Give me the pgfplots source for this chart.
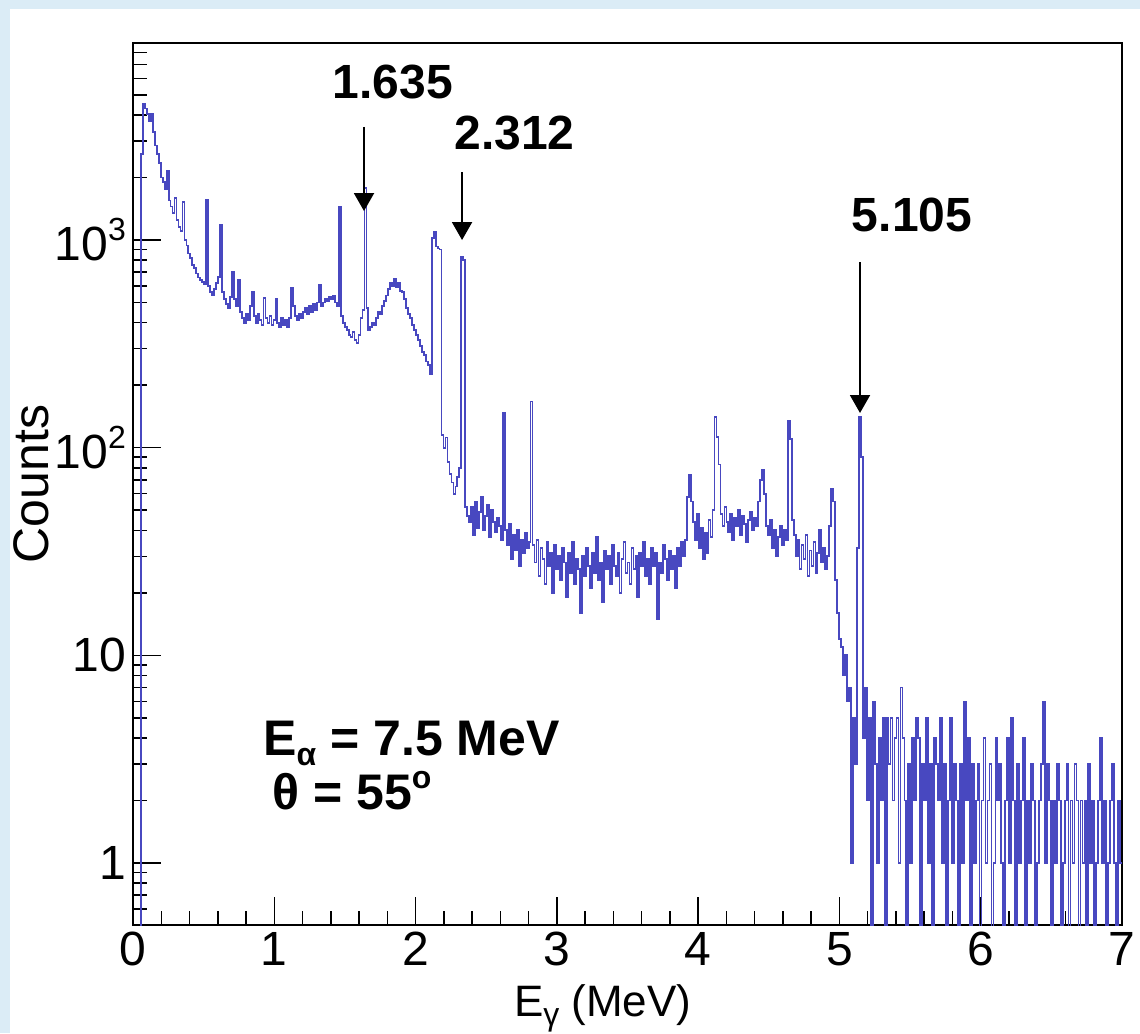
\documentclass[border=0pt]{standalone}
\usepackage{fontspec}
\setmainfont{Liberation Sans}
\usepackage{pgfplots}
\pgfplotsset{compat=1.18}
\usetikzlibrary{arrows.meta}
\definecolor{histblue}{RGB}{72,72,192}
\definecolor{bgblue}{RGB}{219,236,246}
\newcommand{\sub}[1]{\raisebox{-0.2em}{\fontsize{16}{16}\selectfont #1}}
\newcommand{\sups}[1]{\raisebox{0.42em}{\fontsize{16}{16}\selectfont #1}}
\begin{document}
\begin{tikzpicture}
\fill[bgblue] (-66.5pt,-54pt) rectangle (503.5pt,462.5pt);
\fill[white] (-61.5pt,-54pt) rectangle (503.5pt,458pt);
\begin{axis}[
  at={(0pt,0pt)}, anchor=south west,
  scale only axis, width=494.5pt, height=441pt,
  ymode=log, xmin=0, xmax=7, ymin=0.503, ymax=8880,
  xtick={0,1,2,3,4,5,6,7}, xticklabels={0,1,2,3,4,5,6,7},
  minor x tick num=4,
  ytick={1,10,100,1000},
  yticklabels={1,10,{10\sups{2}},{10\sups{3}}},
  minor ytick={0.6,0.7,0.8,0.9,2,3,4,5,6,7,8,9,20,30,40,50,60,70,80,90,200,300,400,500,600,700,800,900,2000,3000,4000,5000,6000,7000,8000},
  tick align=inside, xtick pos=bottom, ytick pos=left,
  major tick length=14pt, minor tick length=7pt,
  tick style={black, line width=0.75pt},
  axis line style={line width=1pt},
  tick label style={font=\fontsize{24}{28}\selectfont},
  xlabel={E\sub{γ} (MeV)},
  xlabel style={at={(axis description cs:0.475,-0.1043)}, anchor=base, inner sep=0pt, font=\fontsize{22}{26}\selectfont},
  ylabel={Counts},
  ylabel style={at={(axis description cs:-0.1031,0.5)}, anchor=center, font=\fontsize{25}{30}\selectfont},
]
\addplot[const plot, mark=none, color=histblue, line width=0.9pt] coordinates {
(0.000,0.01)(0.014,0.01)(0.028,0.01)(0.042,0.01)(0.056,2600)(0.070,4500)(0.084,4300)(0.098,4050)
(0.112,3750)(0.126,4050)(0.140,3300)(0.154,2850)(0.168,2600)(0.182,2350)(0.196,2000)(0.210,1900)
(0.224,1750)(0.238,2150)(0.252,1550)(0.266,1450)(0.280,1350)(0.294,1590)(0.308,1250)(0.322,1150)
(0.336,1100)(0.350,1520)(0.364,1000)(0.378,940)(0.392,860)(0.406,820)(0.420,760)(0.434,730)
(0.448,690)(0.462,660)(0.476,640)(0.490,630)(0.504,610)(0.518,1560)(0.532,600)(0.546,560)
(0.560,540)(0.574,580)(0.588,620)(0.602,665)(0.616,1180)(0.630,560)(0.644,520)(0.658,490)
(0.672,470)(0.686,530)(0.700,700)(0.714,520)(0.728,480)(0.742,640)(0.756,450)(0.770,420)
(0.784,400)(0.798,440)(0.812,410)(0.826,480)(0.840,560)(0.854,430)(0.868,400)(0.882,440)
(0.896,410)(0.910,390)(0.924,525)(0.938,420)(0.952,400)(0.966,430)(0.980,390)(0.994,410)
(1.008,520)(1.022,400)(1.036,380)(1.050,420)(1.064,390)(1.078,410)(1.092,380)(1.106,420)
(1.120,590)(1.134,480)(1.148,430)(1.162,410)(1.176,440)(1.190,420)(1.204,450)(1.218,470)
(1.232,440)(1.246,480)(1.260,450)(1.274,490)(1.288,460)(1.302,500)(1.316,610)(1.330,480)
(1.344,500)(1.358,520)(1.372,510)(1.386,530)(1.400,520)(1.414,540)(1.428,500)(1.442,480)
(1.456,1440)(1.470,430)(1.484,400)(1.498,380)(1.512,370)(1.526,350)(1.540,340)(1.554,360)
(1.568,330)(1.582,320)(1.596,350)(1.610,420)(1.624,460)(1.638,1780)(1.652,470)(1.666,370)
(1.680,380)(1.694,400)(1.708,390)(1.722,420)(1.736,450)(1.750,440)(1.764,480)(1.778,510)
(1.792,540)(1.806,580)(1.820,620)(1.834,600)(1.848,650)(1.862,590)(1.876,620)(1.890,570)
(1.904,560)(1.918,520)(1.932,470)(1.946,440)(1.960,420)(1.974,390)(1.988,370)(2.002,350)
(2.016,330)(2.030,310)(2.044,290)(2.058,280)(2.072,260)(2.086,250)(2.100,225)(2.114,1020)
(2.128,1090)(2.142,930)(2.156,910)(2.170,900)(2.184,115)(2.198,100)(2.212,112)(2.226,85)
(2.240,75)(2.254,68)(2.268,60)(2.282,65)(2.296,72)(2.310,80)(2.324,830)(2.338,800)
(2.352,52)(2.366,47)(2.380,44)(2.394,52)(2.408,38)(2.422,55)(2.436,41)(2.450,49)
(2.464,58)(2.478,40)(2.492,47)(2.506,53)(2.520,37)(2.534,50)(2.548,44)(2.562,39)
(2.576,46)(2.590,42)(2.604,36)(2.618,147)(2.632,40)(2.646,34)(2.660,43)(2.674,29)
(2.688,38)(2.702,32)(2.716,40)(2.730,27)(2.744,36)(2.758,31)(2.772,39)(2.786,33)
(2.800,35)(2.814,167)(2.828,34)(2.842,28)(2.856,36)(2.870,24)(2.884,33)(2.898,29)
(2.912,22)(2.926,35)(2.940,27)(2.954,31)(2.968,20)(2.982,34)(2.996,26)(3.010,30)
(3.024,23)(3.038,33)(3.052,28)(3.066,19)(3.080,31)(3.094,25)(3.108,35)(3.122,22)
(3.136,29)(3.150,26)(3.164,16)(3.178,30)(3.192,24)(3.206,33)(3.220,27)(3.234,21)
(3.248,31)(3.262,25)(3.276,37)(3.290,23)(3.304,28)(3.318,18)(3.332,32)(3.346,26)
(3.360,30)(3.374,22)(3.388,34)(3.402,27)(3.416,24)(3.430,31)(3.444,20)(3.458,29)
(3.472,35)(3.486,25)(3.500,28)(3.514,22)(3.528,33)(3.542,26)(3.556,30)(3.570,19)
(3.584,31)(3.598,27)(3.612,35)(3.626,24)(3.640,29)(3.654,22)(3.668,33)(3.682,27)
(3.696,31)(3.710,15)(3.724,28)(3.738,25)(3.752,34)(3.766,29)(3.780,23)(3.794,32)
(3.808,26)(3.822,30)(3.836,21)(3.850,33)(3.864,27)(3.878,35)(3.892,30)(3.906,36)
(3.920,58)(3.934,74)(3.948,55)(3.962,44)(3.976,36)(3.990,48)(4.004,33)(4.018,41)
(4.032,29)(4.046,39)(4.060,31)(4.074,45)(4.088,37)(4.102,50)(4.116,141)(4.130,113)
(4.144,83)(4.158,48)(4.172,42)(4.186,52)(4.200,44)(4.214,39)(4.228,48)(4.242,36)
(4.256,46)(4.270,42)(4.284,50)(4.298,38)(4.312,47)(4.326,43)(4.340,35)(4.354,45)
(4.368,49)(4.382,40)(4.396,46)(4.410,42)(4.424,55)(4.438,70)(4.452,78)(4.466,60)
(4.480,42)(4.494,38)(4.508,45)(4.522,33)(4.536,40)(4.550,30)(4.564,37)(4.578,42)
(4.592,34)(4.606,40)(4.620,36)(4.634,134)(4.648,110)(4.662,45)(4.676,38)(4.690,30)
(4.704,36)(4.718,26)(4.732,34)(4.746,29)(4.760,38)(4.774,24)(4.788,32)(4.802,27)
(4.816,35)(4.830,25)(4.844,31)(4.858,40)(4.872,28)(4.886,33)(4.900,26)(4.914,30)
(4.928,42)(4.942,63)(4.956,55)(4.970,23)(4.984,16)(4.998,12)(5.012,11)(5.026,8)
(5.040,10)(5.054,6)(5.068,7)(5.082,1)(5.096,5)(5.110,3)(5.124,33)(5.138,141)
(5.152,90)(5.166,4)(5.180,7)(5.194,2)(5.208,5)(5.222,0.01)(5.236,6)(5.250,3)
(5.264,1)(5.278,4)(5.292,2)(5.306,5)(5.320,0.01)(5.334,5)(5.348,3)(5.362,5)
(5.376,2)(5.390,4)(5.404,5)(5.418,1)(5.432,7)(5.446,4)(5.460,2)(5.474,0.01)
(5.488,3)(5.502,1)(5.516,4)(5.530,2)(5.544,5)(5.558,4)(5.572,0.01)(5.586,3)
(5.600,2)(5.614,5)(5.628,1)(5.642,3)(5.656,0.01)(5.670,4)(5.684,3)(5.698,2)
(5.712,5)(5.726,1)(5.740,3)(5.754,0.01)(5.768,2)(5.782,5)(5.796,1)(5.810,3)
(5.824,2)(5.838,0.01)(5.852,3)(5.866,1)(5.880,6)(5.894,2)(5.908,4)(5.922,0.01)
(5.936,3)(5.950,1)(5.964,2)(5.978,3)(5.992,0.01)(6.006,2)(6.020,4)(6.034,1)
(6.048,2)(6.062,3)(6.076,0.01)(6.090,1)(6.104,4)(6.118,2)(6.132,3)(6.146,1)
(6.160,0.01)(6.174,2)(6.188,4)(6.202,1)(6.216,5)(6.230,2)(6.244,0.01)(6.258,3)
(6.272,1)(6.286,2)(6.300,4)(6.314,0.01)(6.328,2)(6.342,1)(6.356,3)(6.370,2)
(6.384,0.01)(6.398,1)(6.412,2)(6.426,3)(6.440,6)(6.454,1)(6.468,3)(6.482,2)
(6.496,0.01)(6.510,2)(6.524,1)(6.538,3)(6.552,2)(6.566,0.01)(6.580,1)(6.594,2)
(6.608,3)(6.622,0.01)(6.636,2)(6.650,1)(6.664,3)(6.678,2)(6.692,0.01)(6.706,2)
(6.720,1)(6.734,2)(6.748,0.01)(6.762,3)(6.776,1)(6.790,2)(6.804,0.01)(6.818,1)
(6.832,2)(6.846,4)(6.860,1)(6.874,2)(6.888,0.01)(6.902,1)(6.916,2)(6.930,3)
(6.944,1)(6.958,0.01)(6.972,2)(6.986,1)(7.000,1)
};
\node[font=\bfseries\fontsize{24}{28}\selectfont] at (rel axis cs:0.2629,0.9558) {1.635};
\node[font=\bfseries\fontsize{24}{28}\selectfont] at (rel axis cs:0.3857,0.8980) {2.312};
\node[font=\bfseries\fontsize{24}{28}\selectfont] at (rel axis cs:0.7877,0.8050) {5.105};
\draw[line width=1pt, -{Triangle[width=10pt,length=9pt]}] (rel axis cs:0.2336,0.9048) -- (rel axis cs:0.2336,0.8095);
\draw[line width=1pt, -{Triangle[width=10pt,length=9pt]}] (rel axis cs:0.3327,0.8537) -- (rel axis cs:0.3327,0.7766);
\draw[line width=1pt, -{Triangle[width=10pt,length=9pt]}] (rel axis cs:0.7351,0.7517) -- (rel axis cs:0.7351,0.5805);
\node[anchor=base west, inner sep=0pt, font=\bfseries\fontsize{25}{30}\selectfont] at (rel axis cs:0.1314,0.1927) {E\sub{α} = 7.5 MeV};
\node[anchor=base west, inner sep=0pt, font=\bfseries\fontsize{25}{30}\selectfont] at (rel axis cs:0.1405,0.1315) {θ = 55\sups{o}};
\end{axis}
\pgfresetboundingbox
\path[use as bounding box] (-66.5pt,-54pt) rectangle (503.5pt,462.5pt);
\end{tikzpicture}
\end{document}
